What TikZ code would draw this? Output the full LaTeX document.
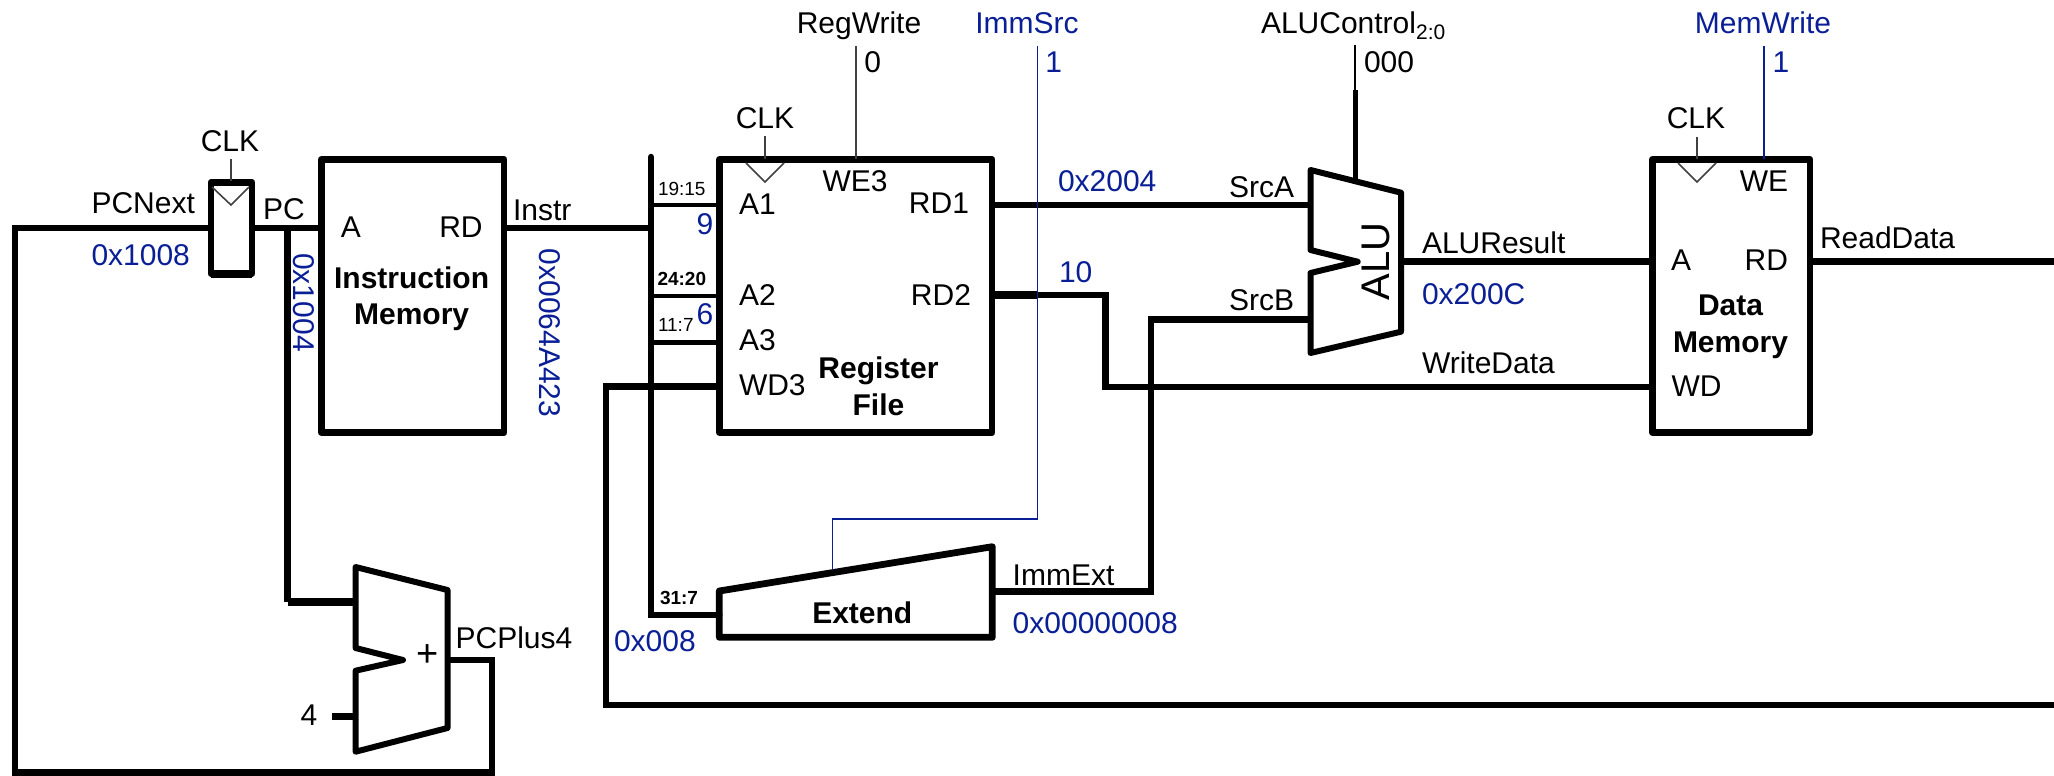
\documentclass[tikz,border=0pt]{standalone}
\usepackage{fontspec}
\setmainfont{Liberation Sans}
\definecolor{valblue}{HTML}{0A1E96}
\tikzset{
  lbl/.style={inner sep=0pt,outer sep=0pt,text height=21.5pt,text depth=0pt,font=\fontsize{30}{30}\selectfont},
  boldlbl/.style={lbl,font=\fontsize{30}{30}\selectfont\bfseries},
  vallbl/.style={lbl,text=valblue},
  bits/.style={inner sep=0pt,outer sep=0pt,text height=13.6pt,text depth=0pt,font=\fontsize{19}{19}\selectfont},
  boldbits/.style={bits,font=\fontsize{19}{19}\selectfont\bfseries},
  block/.style={draw=black,line width=6.8pt,inner sep=0pt,outer sep=0pt,line join=round},
  shapeline/.style={draw=black,line width=6pt,line join=round},
  wire/.style={draw=black,line width=6.5pt,line join=miter},
  heavywire/.style={draw=black,line width=8pt,line join=miter},
  bus/.style={draw=black,line width=6.5pt,line cap=round},
  thinwire/.style={draw=black!75,line width=1.5pt},
  ctrlwire/.style={draw=valblue,line width=1.5pt,line join=miter},
  clktri/.style={draw=black!75,line width=1.6pt,line join=miter},
}
\begin{document}
\begin{tikzpicture}[x=1pt,y=-1pt]
\useasboundingbox (0,0) rectangle (2054,776);

% blocks
\node[block,minimum width=41pt,minimum height=91pt] (flop) at (231.5,228) {};
\node[block,minimum width=182.5pt,minimum height=273pt] (imem) at (412.75,296) {};
\node[block,minimum width=272.5pt,minimum height=273pt] (rf) at (855.75,296) {};
\node[block,minimum width=157.5pt,minimum height=273pt] (dmem) at (1731.25,296) {};
\path[heavywire] (flop.south west) -- (flop.south east);

% pin coordinates
\coordinate (nwL) at (15,228);
\coordinate (nwB) at (15,772.7);
\coordinate (nwR) at (492,772.7);
\coordinate (addOutC) at (492,660);
\coordinate (addOut) at (447.5,660);
\coordinate (flopW) at (211,228);
\coordinate (flopE) at (252,228);
\coordinate (imA) at (321.5,228);
\coordinate (imRD) at (504,228);
\coordinate (pcJ) at (287.5,228);
\coordinate (pcB) at (287.5,601.7);
\coordinate (addIn) at (355.6,601.7);
\coordinate (four) at (331.6,716.7);
\coordinate (addFour) at (355.6,716.7);
\coordinate (busT) at (651,157);
\coordinate (busM) at (651,228);
\coordinate (busB) at (651,615);
\coordinate (busA1) at (651,205);
\coordinate (busA2) at (651,296);
\coordinate (busA3) at (651,342.3);
\coordinate (rfA1) at (719.5,205);
\coordinate (rfA2) at (719.5,296);
\coordinate (rfA3) at (719.5,342.3);
\coordinate (rfWD) at (719.5,386.7);
\coordinate (wbT) at (606,386.7);
\coordinate (wbB) at (606,705);
\coordinate (wbR) at (2054,705);
\coordinate (extIn) at (719.3,615);
\coordinate (rfRD1) at (992,205);
\coordinate (rfRD2) at (992,295);
\coordinate (aluA) at (1310.5,205);
\coordinate (aluB) at (1310.5,319.3);
\coordinate (cross) at (1037.5,295);
\coordinate (rd2C1) at (1105.7,295);
\coordinate (rd2C2) at (1105.7,387);
\coordinate (dmWD) at (1652.5,387);
\coordinate (immE) at (992.3,591.7);
\coordinate (immC) at (1151,591.7);
\coordinate (srcBC) at (1151,319.3);
\coordinate (aluY) at (1401,261.7);
\coordinate (dmA) at (1652.5,261.7);
\coordinate (dmRD) at (1810,261.7);
\coordinate (rdEnd) at (2054,261.7);
\coordinate (aluCt) at (1355,45);
\coordinate (aluCm) at (1355,90);
\coordinate (aluCb) at (1355,181);

% ALU and adder outlines
\path[shapeline] (1310.5,170) -- (1401,192.7) -- (1401,331.7) -- (1310.5,353) -- (1310.5,273) -- (1357.7,261.7) -- (1310.5,250) -- cycle;
\path[shapeline] (355.6,567) -- (447.5,590) -- (447.5,728) -- (355.6,751.7) -- (355.6,670.7) -- (403,660) -- (355.6,648) -- cycle;
% Extend outline
\path[block] (719.3,591) -- (992.3,546.7) -- (992.3,637.3) -- (719.3,637.3) -- cycle;

% wires
\path[wire] (addOut) -- (addOutC) -- (nwR) -- (nwB) -- (nwL) -- (flopW);
\path[wire] (flopE) -- (imA);
\path[wire] (pcJ) -- (pcB);
\path[heavywire] (pcB) -- (addIn);
\path[wire] (four) -- (addFour);
\path[wire] (imRD) -- (busM);
\path[bus] (busT) -- (busB) -- (extIn);
\path[draw=black,line width=4.5pt] (busA1) -- (rfA1);
\path[draw=black,line width=4.5pt] (busA2) -- (rfA2);
\path[draw=black,line width=4.5pt] (busA3) -- (rfA3);
\path[wire] (rfWD) -- (wbT) -- (wbB) -- (wbR);
\path[wire] (rfRD1) -- (aluA);
\path[heavywire] (rfRD2) -- (cross);
\path[wire] (cross) -- (rd2C1) -- (rd2C2) -- (dmWD);
\path[wire] (immE) -- (immC) -- (srcBC) -- (aluB);
\path[wire] (aluY) -- (dmA);
\path[wire] (dmRD) -- (rdEnd);
\path[draw=black,line width=2.5pt] (aluCt) -- (aluCm);
\path[draw=black,line width=5pt] (aluCm) -- (aluCb);

% clock triangles and stems
\coordinate (clk1a) at (212,187); \coordinate (clk1b) at (231,205); \coordinate (clk1c) at (249,187);
\path[clktri] (clk1a) -- (clk1b) -- (clk1c);
\coordinate (clk1s) at (231,159);
\path[thinwire] (clk1s) -- (231,181);
\coordinate (clk2a) at (746,163); \coordinate (clk2b) at (765,182); \coordinate (clk2c) at (784,163);
\path[clktri] (clk2a) -- (clk2b) -- (clk2c);
\coordinate (clk2s) at (765,136);
\path[thinwire] (clk2s) -- (765,159);
\coordinate (clk3a) at (1678,163); \coordinate (clk3b) at (1697,182); \coordinate (clk3c) at (1716,163);
\path[clktri] (clk3a) -- (clk3b) -- (clk3c);
\coordinate (clk3s) at (1697,136.7);
\path[thinwire] (clk3s) -- (1697,159);

% control lines
\coordinate (rwT) at (856,46); \coordinate (rwB) at (856,159);
\path[thinwire] (rwT) -- (rwB);
\coordinate (isT) at (1037.6,46); \coordinate (isC1) at (1037.6,519); \coordinate (isC2) at (832.3,519); \coordinate (isB) at (832.3,570);
\path[ctrlwire] (isT) -- (isC1) -- (isC2) -- (isB);
\coordinate (mwT) at (1764,46); \coordinate (mwB) at (1764,159);
\path[ctrlwire] (mwT) -- (mwB);

% labels: left part
\node[lbl] (lClk1) at (230,141) {CLK};
\node[lbl,anchor=west] (lPCNext) at (91.5,203) {PCNext};
\node[vallbl,anchor=west] (vPCNext) at (91.5,255) {0x1008};
\node[lbl,anchor=west] (lPC) at (263,209) {PC};
\node[vallbl,rotate=-90] (vPC) at (304.5,302.5) {0x1004};
\node[lbl] (lImA) at (351,227) {A};
\node[lbl] (lImRD) at (461,227) {RD};
\node[boldlbl] (lIm1) at (411.6,278) {Instruction};
\node[boldlbl] (lIm2) at (411.6,314) {Memory};
\node[lbl,anchor=west] (lInstr) at (513,210) {Instr};
\node[vallbl,rotate=-90] (vInstr) at (550,333) {0x0064A423};
\node[lbl,anchor=west] (lPlus4) at (455.6,638) {PCPlus4};
\node[lbl,font=\fontsize{38}{38}\selectfont] (lPlus) at (427.5,656) {+};
\node[lbl] (lFour) at (309,715) {4};
\node[vallbl,anchor=west] (vImm12) at (614,641) {0x008};
\node[boldbits,anchor=west] (b31) at (660,598) {31:7};

% labels: register file
\node[bits,anchor=west] (b19) at (658,189) {19:15};
\node[boldbits,anchor=west] (b24) at (657.5,279) {24:20};
\node[bits,anchor=west] (b11) at (658,325) {11:7};
\node[vallbl] (v9) at (705,224) {9};
\node[vallbl] (v6) at (705,314) {6};
\node[lbl,anchor=west] (lA1) at (739,204) {A1};
\node[lbl,anchor=west] (lA2) at (739,295) {A2};
\node[lbl,anchor=west] (lA3) at (739,340) {A3};
\node[lbl,anchor=west] (lWD3) at (739,385) {WD3};
\node[lbl] (lWE3) at (855,181) {WE3};
\node[lbl,anchor=east] (lRD1) at (969,203) {RD1};
\node[lbl,anchor=east] (lRD2) at (971,295) {RD2};
\node[boldlbl] (lRf1) at (878.5,368) {Register};
\node[boldlbl] (lRf2) at (878.5,405) {File};
\node[lbl] (lClk2) at (765,118) {CLK};
\node[lbl] (lRegW) at (859,23) {RegWrite};
\node[lbl] (vRegW) at (872.7,62) {0};
\node[vallbl] (lImmS) at (1027,23) {ImmSrc};
\node[vallbl] (vImmS) at (1053.6,62) {1};
\node[vallbl,anchor=west] (vRD1) at (1058,181) {0x2004};
\node[vallbl,anchor=west] (vRD2) at (1059,272) {10};
\node[lbl,anchor=west] (lSrcA) at (1229,187) {SrcA};
\node[lbl,anchor=west] (lSrcB) at (1229,300) {SrcB};

% labels: extend
\node[boldlbl] (lExt) at (862.3,613) {Extend};
\node[lbl,anchor=west] (lImmE) at (1012.7,574.3) {ImmExt};
\node[vallbl,anchor=west] (vImmE) at (1012.7,623) {0x00000008};

% labels: ALU and data memory
\node[lbl,anchor=west] (lAluC) at (1261,23) {ALUControl\raisebox{-6pt}{\fontsize{21}{21}\selectfont 2:0}};
\node[lbl,anchor=west] (vAluC) at (1364,62) {000};
\node[inner sep=0pt,text height=28.6pt,text depth=0pt,font=\fontsize{40}{40}\selectfont,rotate=90] (lAlu) at (1375.6,261.7) {ALU};
\node[lbl,anchor=west] (lAluR) at (1422,243) {ALUResult};
\node[vallbl,anchor=west] (vAluR) at (1422,294) {0x200C};
\node[lbl,anchor=west] (lWrD) at (1422,363) {WriteData};
\node[lbl] (lClk3) at (1696,118) {CLK};
\node[lbl] (lWE) at (1764,181) {WE};
\node[vallbl] (lMemW) at (1763,23) {MemWrite};
\node[vallbl] (vMemW) at (1781,62) {1};
\node[lbl] (lDmA) at (1681,260) {A};
\node[lbl,anchor=east] (lDmRD) at (1788,260) {RD};
\node[boldlbl] (lDm1) at (1730.5,305) {Data};
\node[boldlbl] (lDm2) at (1730.5,342) {Memory};
\node[lbl,anchor=west] (lDmWD) at (1671.5,386) {WD};
\node[lbl,anchor=west] (lRdD) at (1820,237.7) {ReadData};
\end{tikzpicture}
\end{document}
